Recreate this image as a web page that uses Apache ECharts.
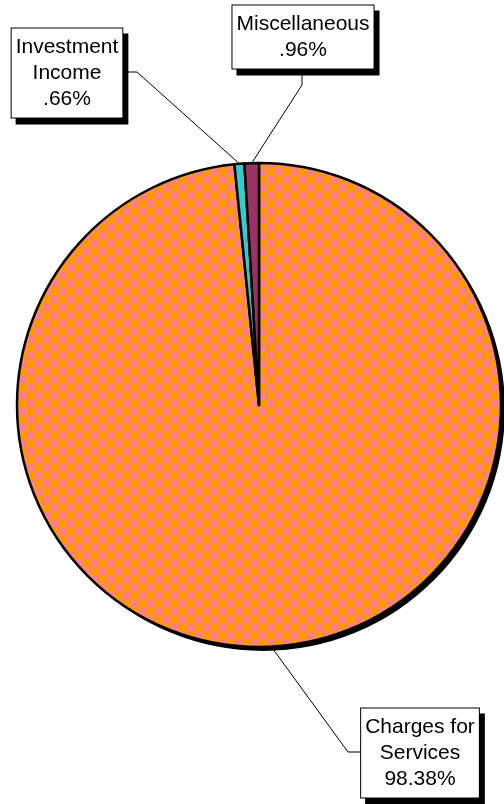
<!DOCTYPE html>
<html>
<head>
<meta charset="utf-8">
<script src="https://cdn.jsdelivr.net/npm/echarts@6/dist/echarts.min.js"></script>
<style>
  html, body { margin: 0; padding: 0; background: #ffffff; }
  #chart { width: 504px; height: 804px; }
</style>
</head>
<body>
<div id="chart"></div>
<script>
// Revenue sources, share of total (percent)
const categories = ['Charges for\nServices', 'Investment\nIncome', 'Miscellaneous'];
const shares = [98.38, 0.66, 0.96];

// Label box centres and leader-line elbows, one per category
const labelCenters = [[420, 753], [67, 73], [303, 37]];
const leaderElbows = [[[348, 752], [362, 752]], [[137, 72], [124, 72]], [[302, 85], [302, 70]]];

// Orange / pink checker fill for the large slice
function checkerPattern() {
  const c = document.createElement('canvas');
  c.width = 16; c.height = 16;
  const g = c.getContext('2d');
  for (let y = 0; y < 16; y++) {
    for (let x = 0; x < 16; x++) {
      const col = Math.floor((x - 3 + 16) / 8);
      const row = Math.floor(y / 8);
      g.fillStyle = ((col + row) % 2 === 1) ? '#ff8080' : '#ff9900';
      g.fillRect(x, y, 1, 1);
    }
  }
  return { image: c, repeat: 'repeat' };
}

const sliceColors = [checkerPattern(), '#33cccc', '#993366'];

function pctText(v) {
  return v.toFixed(2).replace(/^0/, '') + '%';
}

const pieData = categories.map((name, i) => ({
  name: name,
  value: shares[i],
  itemStyle: { color: sliceColors[i] }
}));

const shadowData = categories.map((name, i) => ({ name: name, value: shares[i] }));

const chart = echarts.init(document.getElementById('chart'), null, { renderer: 'canvas' });

chart.setOption({
  animation: false,
  backgroundColor: '#ffffff',
  series: [
    {
      // drop shadow under the pie
      type: 'pie',
      silent: true,
      center: [263, 409],
      radius: 242,
      startAngle: 90,
      clockwise: true,
      z: 1,
      label: { show: false },
      labelLine: { show: false },
      itemStyle: { color: '#000000', borderWidth: 0 },
      data: shadowData
    },
    {
      type: 'pie',
      center: [259, 405],
      radius: 242,
      startAngle: 90,
      clockwise: true,
      avoidLabelOverlap: false,
      z: 2,
      itemStyle: { borderColor: '#000000', borderWidth: 2.5 },
      label: {
        show: true,
        position: 'outside',
        formatter: p => p.name + '\n' + pctText(p.value),
        fontFamily: '"Liberation Sans", Arial, sans-serif',
        fontSize: 21,
        lineHeight: 26,
        color: '#000000',
        align: 'center',
        backgroundColor: '#ffffff',
        borderColor: '#000000',
        borderWidth: 1,
        padding: [6, 4, 5, 4],
        shadowColor: '#000000',
        shadowOffsetX: 5,
        shadowOffsetY: 6,
        shadowBlur: 0
      },
      labelLine: {
        show: true,
        lineStyle: { color: '#000000', width: 1 }
      },
      labelLayout: function (params) {
        const i = params.dataIndex;
        const anchor = params.labelLinePoints ? params.labelLinePoints[0] : leaderElbows[i][0];
        return {
          x: labelCenters[i][0],
          y: labelCenters[i][1],
          align: 'center',
          verticalAlign: 'middle',
          labelLinePoints: [anchor, leaderElbows[i][0], leaderElbows[i][1]]
        };
      },
      data: pieData
    }
  ]
});
</script>
</body>
</html>
